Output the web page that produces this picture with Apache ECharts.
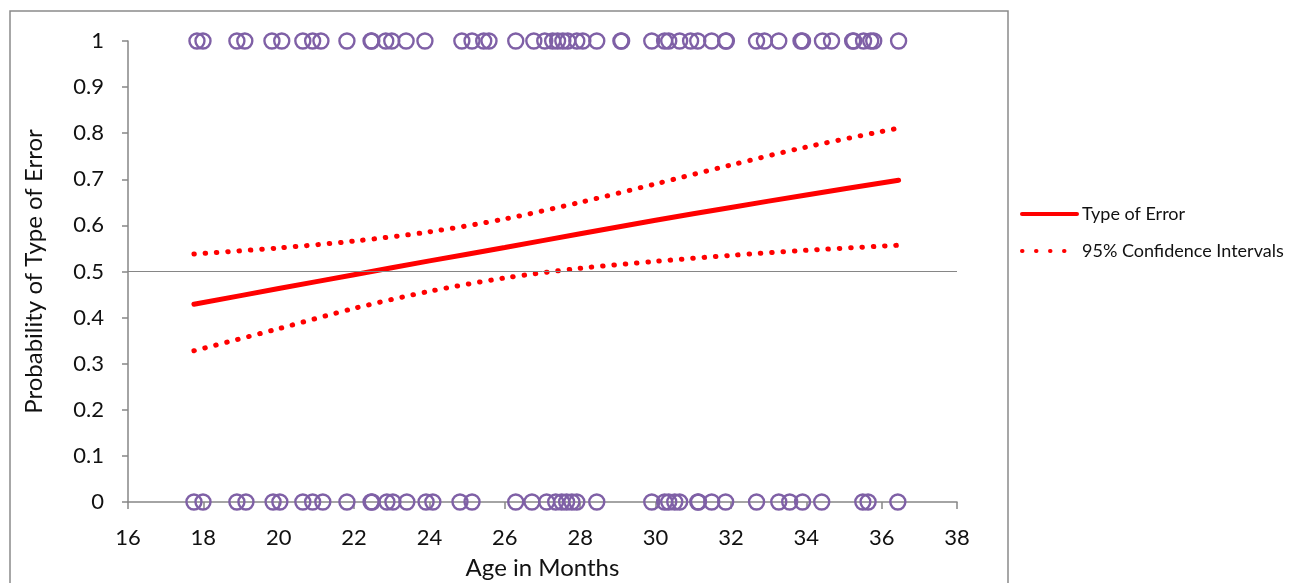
<!DOCTYPE html>
<html>
<head>
<meta charset="utf-8">
<script src="https://cdn.jsdelivr.net/npm/echarts@6/dist/echarts.min.js"></script>
<style>
  html, body { margin: 0; padding: 0; background: #fff; overflow: hidden; }
  #chart { width: 1292px; height: 583px; }
</style>
</head>
<body>
<div id="chart"></div>
<script>
// Observed outcomes: ages (months) of children with error type 1 and type 0
const agesType1 = [17.83, 17.99, 18.89, 19.10, 19.82, 20.08, 20.64, 20.90, 21.12, 21.81,
  22.45, 22.47, 22.84, 23.00, 23.38, 23.88, 24.86, 25.13, 25.44, 25.58, 26.29, 26.77,
  27.06, 27.27, 27.40, 27.54, 27.67, 27.91, 28.07, 28.44, 29.08, 29.10, 29.90, 30.24,
  30.35, 30.64, 30.93, 31.12, 31.49, 31.86, 31.88, 32.68, 32.89, 33.27, 33.86, 33.90,
  34.43, 34.67, 35.23, 35.26, 35.52, 35.71, 35.79, 36.45];
const agesType0 = [17.75, 17.99, 18.89, 19.13, 19.85, 20.03, 20.64, 20.90, 21.17, 21.81,
  22.45, 22.48, 22.87, 23.03, 23.40, 23.91, 24.09, 24.81, 25.13, 26.29, 26.72, 27.11,
  27.35, 27.51, 27.64, 27.78, 27.91, 28.44, 29.90, 30.24, 30.35, 30.51, 30.64, 31.12,
  31.14, 31.49, 31.86, 32.68, 33.27, 33.56, 33.90, 34.41, 35.50, 35.64, 36.43];

// Fitted probability and its 95% confidence band
const fitAges  = [17.75, 20, 22, 24, 26, 28, 30, 32, 34, 36.45];
const fitProb  = [0.429, 0.463, 0.493, 0.523, 0.552, 0.582, 0.611, 0.639, 0.666, 0.698];
const upperCI  = [0.538, 0.551, 0.566, 0.586, 0.614, 0.650, 0.690, 0.731, 0.770, 0.811];
const lowerCI  = [0.328, 0.376, 0.420, 0.457, 0.486, 0.507, 0.522, 0.535, 0.546, 0.557];

const xTicks = [16, 38, 2];   // min, max, step
const yTicks = [0, 1, 0.1];
const referenceLevel = 0.5;

const FONT = 'Lato';
const AXIS_GRAY = '#868686';
const PURPLE = '#7F60A6';
const RED = '#FF0000';
const TEXT = '#111111';

const pairs = (xs, ys) => xs.map((x, i) => [x, ys[i]]);

const ringStyle = { color: 'rgba(0,0,0,0)', borderColor: PURPLE, borderWidth: 2.4, opacity: 1 };
const dotted = { color: RED, width: 5, type: [0.5, 10.8], cap: 'round' };

const chart = echarts.init(document.getElementById('chart'), null, { renderer: 'canvas' });

chart.setOption({
  animation: false,
  backgroundColor: '#ffffff',
  textStyle: { fontFamily: FONT },
  graphic: [{
    type: 'rect',
    shape: { x: 10, y: 11, width: 998, height: 620 },
    style: { fill: 'none', stroke: '#8a8a8a', lineWidth: 1.5 },
    silent: true,
    z: -1
  }],
  grid: { left: 128, right: 335, top: 41, bottom: 81, containLabel: false, outerBoundsMode: 'none' },
  legend: {
    orient: 'vertical',
    left: 1015,
    top: 200,
    itemWidth: 55,
    itemHeight: 14,
    itemGap: 19,
    data: [
      { name: 'Type of Error', lineStyle: { width: 4 } },
      { name: '95% Confidence Intervals', lineStyle: { type: [0.5, 13.5], width: 4, cap: 'round' } }
    ],
    itemStyle: { opacity: 0 },
    textStyle: { fontFamily: FONT, fontSize: 18, color: TEXT }
  },
  xAxis: {
    type: 'value',
    min: xTicks[0], max: xTicks[1], interval: xTicks[2],
    name: 'Age in Months',
    nameLocation: 'middle',
    nameGap: 54,
    nameTextStyle: { fontFamily: FONT, fontSize: 24, color: TEXT },
    axisLine: { lineStyle: { color: AXIS_GRAY, width: 1.5 } },
    axisTick: { show: true, length: 7, lineStyle: { color: AXIS_GRAY, width: 1.5 } },
    axisLabel: { fontFamily: FONT, fontSize: 22, color: TEXT, margin: 25 },
    splitLine: { show: false }
  },
  yAxis: {
    type: 'value',
    min: yTicks[0], max: yTicks[1], interval: yTicks[2],
    name: 'Probability of Type of Error',
    nameLocation: 'middle',
    nameGap: 82,
    nameRotate: 90,
    nameTextStyle: { fontFamily: FONT, fontSize: 24, color: TEXT },
    axisLine: { show: true, lineStyle: { color: AXIS_GRAY, width: 1.5 } },
    axisTick: { show: true, length: 6, lineStyle: { color: AXIS_GRAY, width: 1.5 } },
    axisLabel: { fontFamily: FONT, fontSize: 22, color: TEXT, margin: 24 },
    splitLine: { show: false }
  },
  series: [
    {
      name: 'observed1',
      type: 'scatter',
      data: agesType1.map(a => [a, 1]),
      symbol: 'circle',
      symbolSize: 15,
      itemStyle: ringStyle,
      z: 3
    },
    {
      name: 'observed0',
      type: 'scatter',
      data: agesType0.map(a => [a, 0]),
      symbol: 'circle',
      symbolSize: 15,
      itemStyle: ringStyle,
      z: 3
    },
    {
      name: 'Type of Error',
      type: 'line',
      data: pairs(fitAges, fitProb),
      smooth: 0.3,
      showSymbol: false,
      symbol: 'none',
      lineStyle: { color: RED, width: 5, cap: 'round' },
      itemStyle: { color: RED },
      markLine: {
        silent: true,
        symbol: 'none',
        label: { show: false },
        lineStyle: { color: AXIS_GRAY, width: 1, type: 'solid' },
        data: [{ yAxis: referenceLevel }]
      },
      z: 4
    },
    {
      name: '95% Confidence Intervals',
      type: 'line',
      data: pairs(fitAges, upperCI),
      smooth: 0.3,
      showSymbol: false,
      symbol: 'none',
      lineStyle: dotted,
      itemStyle: { color: RED },
      z: 4
    },
    {
      name: '95% Confidence Intervals',
      type: 'line',
      data: pairs(fitAges, lowerCI),
      smooth: 0.3,
      showSymbol: false,
      symbol: 'none',
      lineStyle: dotted,
      itemStyle: { color: RED },
      z: 4
    }
  ]
});
</script>
</body>
</html>
